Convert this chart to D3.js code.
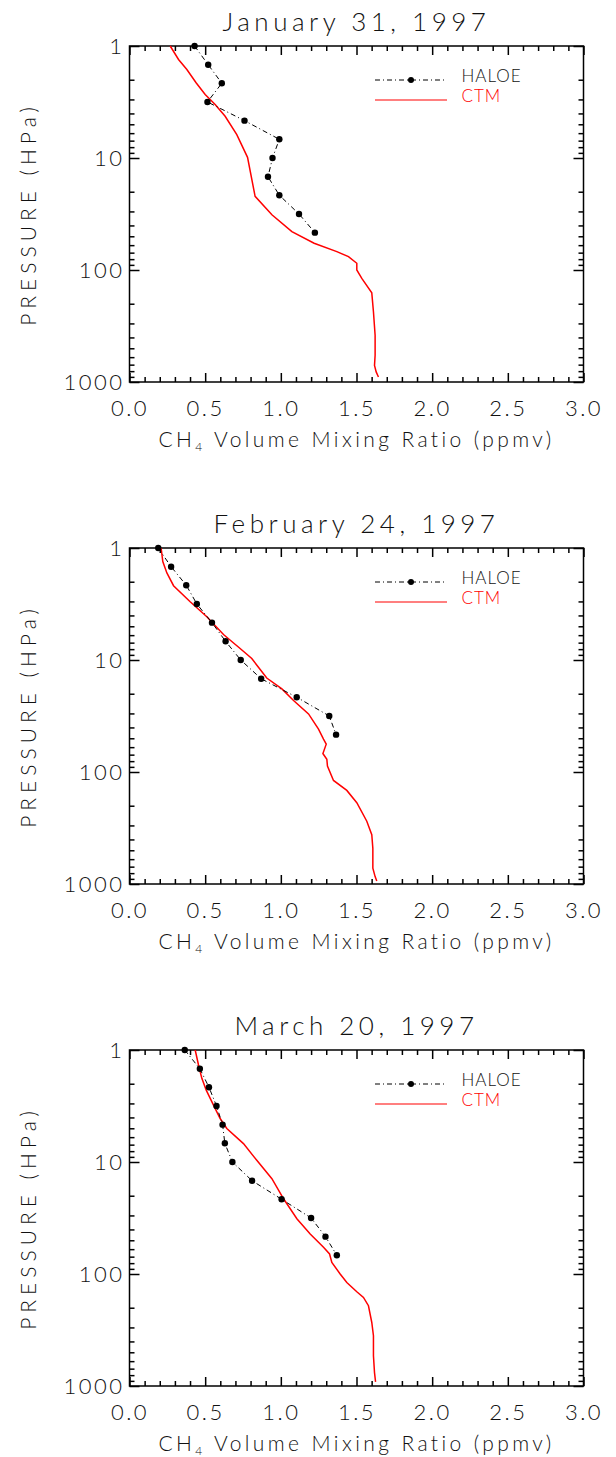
<!DOCTYPE html>
<html>
<head>
<meta charset="utf-8">
<script src="https://cdn.jsdelivr.net/npm/d3@7"></script>
<style>
  body { margin: 0; background: #fff; }
  svg text { font-family: Lato, "Open Sans", "DejaVu Sans", sans-serif; font-weight: 300; fill: #111; }
</style>
</head>
<body>
<svg id="chart" width="616" height="1457"></svg>
<script>
// panel titles
var titles = ["January 31, 1997", "February 24, 1997", "March 20, 1997"];

// HALOE retrieval levels (hPa)
var haloeLevels = [1, 1.47, 2.15, 3.16, 4.64, 6.81, 10, 14.7, 21.5, 31.6, 46.4, 68.1];

// HALOE CH4 (ppmv), one list per date
var haloeJan = [0.43, 0.52, 0.61, 0.515, 0.76, 0.99, 0.945, 0.915, 0.99, 1.12, 1.225];
var haloeFeb = [0.19, 0.275, 0.375, 0.445, 0.545, 0.635, 0.735, 0.87, 1.105, 1.32, 1.365];
var haloeMar = [0.365, 0.465, 0.525, 0.575, 0.615, 0.63, 0.68, 0.81, 1.005, 1.2, 1.295, 1.37];

// CTM profiles: pressure (hPa) and CH4 (ppmv)
var ctmJanP = [1, 1.32, 1.62, 2.13, 2.71, 3.33, 4.24, 6.18, 9.86, 22.0, 32.1, 45.4, 57.7, 68.5, 76.0, 87.1, 100, 119, 160, 236, 382, 577, 710, 813, 902];
var ctmJan  = [0.269, 0.324, 0.379, 0.44, 0.50, 0.566, 0.632, 0.709, 0.78, 0.83, 0.941, 1.073, 1.22, 1.37, 1.447, 1.502, 1.502, 1.535, 1.601, 1.612, 1.623, 1.623, 1.619, 1.63, 1.645];
var ctmFebP = [1, 1.32, 1.67, 2.17, 3.02, 4.11, 5.92, 7.89, 9.70, 11.6, 14.5, 18.1, 23.0, 30.3, 41.4, 50.8, 56.4, 68.4, 76.9, 88.3, 119, 146, 188, 275, 363, 479, 723, 859, 940];
var ctmFeb  = [0.209, 0.22, 0.247, 0.291, 0.401, 0.511, 0.621, 0.731, 0.808, 0.852, 0.907, 1.007, 1.084, 1.183, 1.249, 1.282, 1.30, 1.278, 1.304, 1.308, 1.348, 1.436, 1.502, 1.568, 1.601, 1.608, 1.608, 1.623, 1.634];
var ctmMarP = [1, 1.36, 1.79, 2.28, 3.11, 4.09, 5.02, 6.85, 9.66, 14.1, 21.3, 32.1, 43.9, 57.7, 66.2, 78.7, 100, 119, 144, 162, 192, 271, 356, 538, 760, 920];
var ctmMar  = [0.434, 0.456, 0.478, 0.507, 0.555, 0.599, 0.643, 0.753, 0.841, 0.941, 1.018, 1.106, 1.194, 1.282, 1.322, 1.337, 1.392, 1.436, 1.502, 1.546, 1.579, 1.601, 1.612, 1.612, 1.619, 1.626];

// tick values
var xMajor = [0, 0.5, 1.0, 1.5, 2.0, 2.5, 3.0];
var xMinor = [0.1, 0.2, 0.3, 0.4, 0.6, 0.7, 0.8, 0.9, 1.1, 1.2, 1.3, 1.4, 1.6, 1.7, 1.8, 1.9, 2.1, 2.2, 2.3, 2.4, 2.6, 2.7, 2.8, 2.9];
var yMajor = [1, 10, 100, 1000];
var yMinor = [2, 3, 4, 5, 6, 7, 8, 9, 20, 30, 40, 50, 60, 70, 80, 90, 200, 300, 400, 500, 600, 700, 800, 900];

var haloeSets = [haloeJan, haloeFeb, haloeMar];
var ctmSets = [[ctmJanP, ctmJan], [ctmFebP, ctmFeb], [ctmMarP, ctmMar]];

var svg = d3.select("#chart");
var left = 129.5, W = 454, H = 336;
var tops = [46, 548, 1050];

var x = d3.scaleLinear().domain([0, 3]).range([0, W]);
var y = d3.scaleLog().domain([1, 1000]).range([0, H]);

function styleAxis(sel) {
  sel.select(".domain").remove();
  sel.selectAll(".tick line").attr("stroke", "#000").attr("stroke-width", 1.5);
  sel.selectAll(".tick text").attr("font-size", 22).style("letter-spacing", "2.5px").attr("fill", "#111");
}

tops.forEach(function(top, i) {
  var g = svg.append("g").attr("transform", "translate(" + left + "," + top + ")");

  // frame
  g.append("rect").attr("width", W).attr("height", H)
    .attr("fill", "none").attr("stroke", "#000").attr("stroke-width", 1.5);

  // axes: bottom / top
  g.append("g").attr("transform", "translate(0," + H + ")")
    .call(d3.axisBottom(x).tickValues(xMajor).tickFormat(d3.format(".1f")).tickSizeInner(-9).tickSizeOuter(0).tickPadding(18))
    .call(styleAxis);
  g.append("g").attr("transform", "translate(0," + H + ")")
    .call(d3.axisBottom(x).tickValues(xMinor).tickFormat("").tickSizeInner(-5).tickSizeOuter(0))
    .call(styleAxis);
  g.append("g")
    .call(d3.axisTop(x).tickValues(xMajor).tickFormat("").tickSizeInner(-9).tickSizeOuter(0))
    .call(styleAxis);
  g.append("g")
    .call(d3.axisTop(x).tickValues(xMinor).tickFormat("").tickSizeInner(-5).tickSizeOuter(0))
    .call(styleAxis);

  // axes: left / right
  g.append("g")
    .call(d3.axisLeft(y).tickValues(yMajor).tickFormat(d3.format("d")).tickSizeInner(-10).tickSizeOuter(0).tickPadding(5))
    .call(styleAxis);
  g.append("g")
    .call(d3.axisLeft(y).tickValues(yMinor).tickFormat("").tickSizeInner(-5).tickSizeOuter(0))
    .call(styleAxis);
  g.append("g").attr("transform", "translate(" + W + ",0)")
    .call(d3.axisRight(y).tickValues(yMajor).tickFormat("").tickSizeInner(-10).tickSizeOuter(0))
    .call(styleAxis);
  g.append("g").attr("transform", "translate(" + W + ",0)")
    .call(d3.axisRight(y).tickValues(yMinor).tickFormat("").tickSizeInner(-5).tickSizeOuter(0))
    .call(styleAxis);

  // CTM line
  var ctm = ctmSets[i][0].map(function(p, k) { return { p: p, v: ctmSets[i][1][k] }; });
  var line = d3.line().x(function(d) { return x(d.v); }).y(function(d) { return y(d.p); });
  g.append("path").datum(ctm).attr("d", line)
    .attr("fill", "none").attr("stroke", "#ff0000").attr("stroke-width", 1.5);

  // HALOE line + dots
  var hal = haloeSets[i].map(function(v, k) { return { p: haloeLevels[k], v: v }; });
  g.append("path").datum(hal).attr("d", line)
    .attr("fill", "none").attr("stroke", "#000").attr("stroke-width", 1)
    .attr("stroke-dasharray", "5,3,1,3");
  g.selectAll(".dot").data(hal).enter().append("circle")
    .attr("cx", function(d) { return x(d.v); })
    .attr("cy", function(d) { return y(d.p); })
    .attr("r", 3.2).attr("fill", "#000");

  // legend
  var lx0 = 245.5, lx1 = 317.5;
  g.append("line").attr("x1", lx0).attr("x2", lx1).attr("y1", 34).attr("y2", 34)
    .attr("stroke", "#000").attr("stroke-dasharray", "5,3,1,3");
  g.append("circle").attr("cx", (lx0 + lx1) / 2).attr("cy", 34).attr("r", 3).attr("fill", "#000");
  g.append("line").attr("x1", lx0).attr("x2", lx1).attr("y1", 54).attr("y2", 54)
    .attr("stroke", "#ff0000").attr("stroke-width", 1.2);
  g.append("text").attr("x", 332).attr("y", 36).attr("font-size", 17).style("letter-spacing", "1px").text("HALOE");
  g.append("text").attr("x", 332).attr("y", 56).attr("font-size", 17).style("letter-spacing", "1px")
    .style("fill", "#ff0000").text("CTM");

  // title
  g.append("text").attr("x", W / 2).attr("y", -15).attr("text-anchor", "middle")
    .attr("font-size", 26).style("letter-spacing", "4.5px").text(titles[i]);

  // x label
  var xl = g.append("text").attr("x", W / 2).attr("y", H + 65).attr("text-anchor", "middle")
    .attr("font-size", 21).style("letter-spacing", "3.4px");
  xl.append("tspan").text("CH");
  xl.append("tspan").attr("font-size", 12).attr("dy", 4).text("4");
  xl.append("tspan").attr("dy", -4).text(" Volume Mixing Ratio (ppmv)");

  // y label
  g.append("text").attr("transform", "translate(" + (-94) + "," + (H / 2) + ") rotate(-90)")
    .attr("text-anchor", "middle").attr("font-size", 21).style("letter-spacing", "5px")
    .text("PRESSURE (HPa)");
});
</script>
</body>
</html>
